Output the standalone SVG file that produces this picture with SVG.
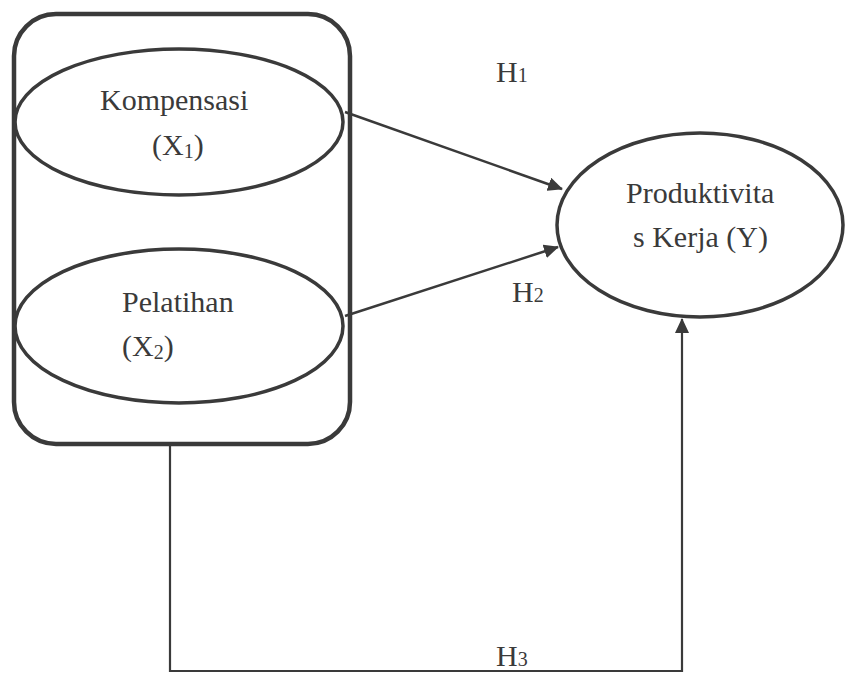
<svg xmlns="http://www.w3.org/2000/svg" width="845" height="673" viewBox="0 0 845 673">
<defs>
<style>
.node{fill:none;stroke:#3a3a3a;stroke-width:3.5}
.box{fill:none;stroke:#3a3a3a;stroke-width:4.5}
.t{font-family:"Liberation Serif","Times New Roman",serif;font-size:30px;fill:#3a3a3a}
.s{font-size:20px}
.c{fill:none;stroke:#3a3a3a;stroke-width:2.5}
.c3{fill:none;stroke:#3a3a3a;stroke-width:2.2}
</style>
<marker id="ah" viewBox="0 0 15 14" refX="14" refY="7" markerWidth="15" markerHeight="14" markerUnits="userSpaceOnUse" orient="auto">
<path d="M0,0 L15,7 L0,14 Z" fill="#3a3a3a"/>
</marker>
</defs>
<rect width="845" height="673" fill="#ffffff"/>
<g id="group-x">
<rect class="box" x="14" y="14" width="336" height="430" rx="42" ry="42"/>
</g>
<g id="node-x1">
<ellipse class="node" cx="179" cy="122" rx="164" ry="73"/>
<text class="t" x="100" y="110">Kompensasi</text>
<text class="t" x="152" y="155">(X<tspan class="s" dy="3">1</tspan><tspan dy="-3">)</tspan></text>
</g>
<g id="node-x2">
<ellipse class="node" cx="179" cy="326" rx="164" ry="77"/>
<text class="t" x="122" y="312">Pelatihan</text>
<text class="t" x="122" y="356">(X<tspan class="s" dy="3">2</tspan><tspan dy="-3">)</tspan></text>
</g>
<g id="node-y">
<ellipse class="node" cx="700" cy="225" rx="143" ry="92"/>
<text class="t" x="626" y="203">Produktivita</text>
<text class="t" x="633" y="247">s Kerja (Y)</text>
</g>
<g id="connectors">
<line class="c" x1="345" y1="112" x2="562" y2="189" marker-end="url(#ah)"/>
<line class="c" x1="345" y1="316" x2="558" y2="247" marker-end="url(#ah)"/>
<polyline class="c3" points="170,445 170,671 682,671 682,319" marker-end="url(#ah)"/>
<text class="t" x="496" y="82">H<tspan class="s">1</tspan></text>
<text class="t" x="512" y="302">H<tspan class="s">2</tspan></text>
<text class="t" x="496" y="666">H<tspan class="s">3</tspan></text>
</g>
</svg>
